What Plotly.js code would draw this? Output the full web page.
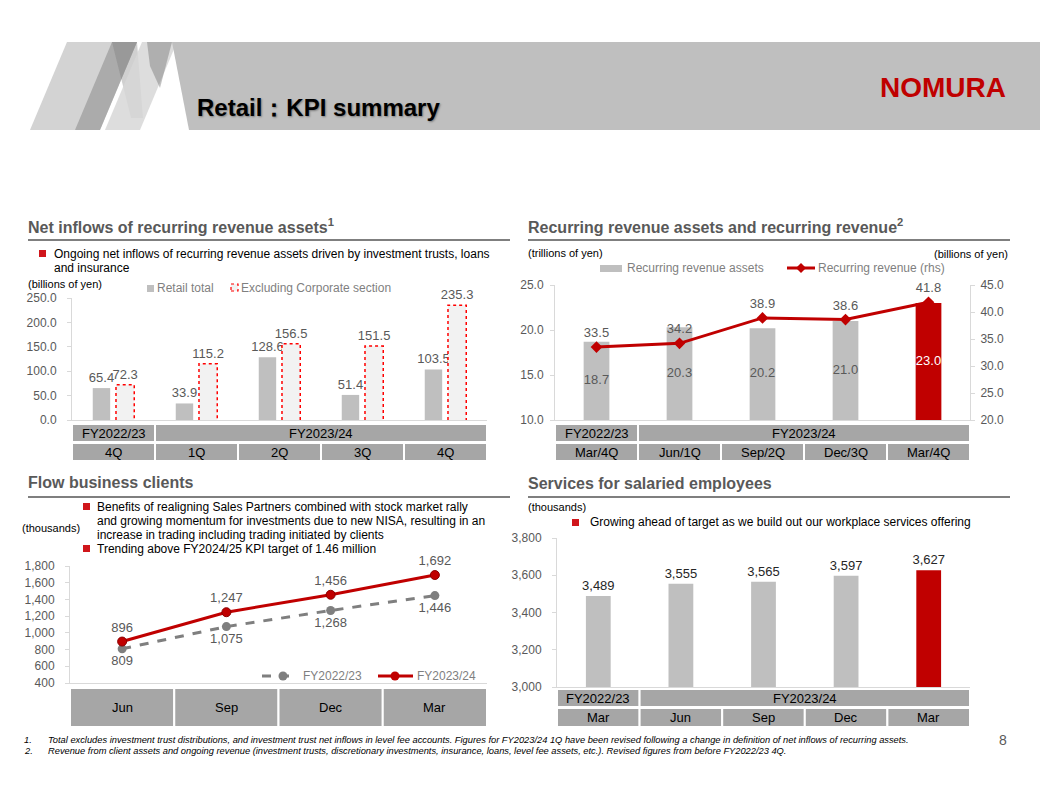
<!DOCTYPE html>
<html><head><meta charset="utf-8">
<script src="https://cdn.plot.ly/plotly-3.0.1.min.js"></script>
<style>html,body{margin:0;padding:0;background:#fff}#chart{width:1040px;height:804px}</style>
</head><body><div id="chart"></div>
<script>
// ---------------- DATA ----------------
const netInflowQuarters = ['4Q', '1Q', '2Q', '3Q', '4Q'];
const netInflowYears = ['FY2022/23', 'FY2023/24'];
const retailTotal = [65.4, 33.9, 128.6, 51.4, 103.5];
const exclCorporate = [72.3, 115.2, 156.5, 151.5, 235.3];

const recurringPeriods = ['Mar/4Q', 'Jun/1Q', 'Sep/2Q', 'Dec/3Q', 'Mar/4Q'];
const recurringYears = ['FY2022/23', 'FY2023/24'];
const recurringAssets = [18.7, 20.3, 20.2, 21.0, 23.0];
const recurringRevenue = [33.5, 34.2, 38.9, 38.6, 41.8];

const flowMonths = ['Jun', 'Sep', 'Dec', 'Mar'];
const flowFY2223 = [809, 1075, 1268, 1446];
const flowFY2324 = [896, 1247, 1456, 1692];

const salariedMonths = ['Mar', 'Jun', 'Sep', 'Dec', 'Mar'];
const salariedYears = ['FY2022/23', 'FY2023/24'];
const salariedClients = [3489, 3555, 3565, 3597, 3627];

// ---------------- STYLE ----------------
const W = 1040, H = 804;
const fx = x => x / W, fy = y => 1 - y / H;
const idx = a => a.map((_, i) => i);
const FONT = 'Liberation Sans, Arial, sans-serif';
const RED = '#C00000', BAR = '#BFBFBF', TXT = '#595959', LEG = '#7F7F7F', CELL = '#A6A6A6', AX = '#D9D9D9';
const BULLET = '#D0161B';
const ASSET_AXIS = [10, 25];

const shapes = [], annotations = [];
function txt(x, y, text, o) {
  o = o || {};
  annotations.push({xref: 'paper', yref: 'paper', x: fx(x), y: fy(y), text: text, showarrow: false,
    xanchor: o.anchor || 'left', yanchor: 'middle', align: o.anchor || 'left',
    font: {family: FONT, size: o.size || 12, color: o.color || '#000', shadow: o.shadow || 'none'}});
}
function rect(x0, y0, x1, y1, fill, line) {
  shapes.push({type: 'rect', xref: 'paper', yref: 'paper', x0: fx(x0), x1: fx(x1), y0: fy(y1), y1: fy(y0),
    fillcolor: fill, line: line || {width: 0}, layer: 'above'});
}
function poly(pts, fill) {
  const d = pts.map((p, i) => (i ? 'L' : 'M') + fx(p[0]).toFixed(5) + ',' + fy(p[1]).toFixed(5)).join(' ') + ' Z';
  shapes.push({type: 'path', xref: 'paper', yref: 'paper', path: d, fillcolor: fill, line: {width: 0}, layer: 'below'});
}
function hline(x0, x1, y, color, width, dash) {
  shapes.push({type: 'line', xref: 'paper', yref: 'paper', x0: fx(x0), x1: fx(x1), y0: fy(y), y1: fy(y),
    line: {color: color, width: width, dash: dash || 'solid'}, layer: 'above'});
}
function dot(cx, cy, r, color) {
  shapes.push({type: 'circle', xref: 'paper', yref: 'paper', x0: fx(cx - r), x1: fx(cx + r), y0: fy(cy + r), y1: fy(cy - r),
    fillcolor: color, line: {width: 0}, layer: 'above'});
}
function cell(xref, x0, x1, yTop, yBot, text) {
  shapes.push({type: 'rect', xref: xref, yref: 'paper', x0: x0, x1: x1, y0: fy(yBot), y1: fy(yTop),
    fillcolor: CELL, line: {color: '#FFFFFF', width: 2}, layer: 'above'});
  annotations.push({xref: xref, yref: 'paper', x: (x0 + x1) / 2, y: fy((yTop + yBot) / 2), text: text, showarrow: false,
    xanchor: 'center', yanchor: 'middle', font: {family: FONT, size: 13, color: '#000'}});
}
function yearRow(xref, n, years, yTop, yBot) {
  cell(xref, -0.5, 0.5, yTop, yBot, years[0]);
  cell(xref, 0.5, n - 0.5, yTop, yBot, years[1]);
}
function catRow(xref, cats, yTop, yBot) {
  cats.forEach((c, i) => cell(xref, i - 0.5, i + 0.5, yTop, yBot, c));
}

// ---------------- HEADER ----------------
poly([[30, 130], [100, 130], [137, 42], [67, 42]], '#D3D3D3');
poly([[75, 130], [100, 130], [137, 42], [112, 42]], '#ABABAB');
poly([[112, 42], [137, 42], [143, 118], [131, 118]], 'rgba(120,120,120,0.35)');
poly([[105, 130], [140, 130], [177, 42], [142, 42]], 'rgba(215,215,215,0.85)');
poly([[147, 42], [172, 42], [160, 88], [150, 66]], 'rgba(120,120,120,0.45)');
poly([[172, 42], [1040, 42], [1040, 130], [189, 130]], '#BFBFBF');
txt(195, 107, '<b>Retail：KPI summary</b>', {size: 24, shadow: '1px 1px 2px rgba(0,0,0,0.35)'});
txt(1008, 88, '<b>NOMURA</b>', {size: 28, color: RED, anchor: 'right'});

// ---------------- SECTION TITLES ----------------
txt(26, 226, '<b>Net inflows of recurring revenue assets<sup>1</sup></b>', {size: 16, color: TXT});
txt(526, 226, '<b>Recurring revenue assets and recurring revenue<sup>2</sup></b>', {size: 16, color: TXT});
txt(26, 482, '<b>Flow business clients</b>', {size: 16, color: TXT});
txt(526, 483, '<b>Services for salaried employees</b>', {size: 16, color: TXT});
hline(28, 510, 240, '#7F7F7F', 2);
hline(528, 1010, 240, '#7F7F7F', 2);
hline(28, 510, 497, '#7F7F7F', 2);
hline(528, 1010, 497, '#7F7F7F', 2);

// ---------------- CHART 1 texts ----------------
rect(39, 250, 46, 257, BULLET);
txt(52, 254, 'Ongoing net inflows of recurring revenue assets driven by investment trusts, loans');
txt(52, 268, 'and insurance');
txt(26, 284, '(billions of yen)', {size: 11});
rect(147, 285, 154, 292, BAR);
txt(155, 288, 'Retail total', {color: LEG});
shapes.push({type: 'rect', xref: 'paper', yref: 'paper', x0: fx(231), x1: fx(238), y0: fy(291), y1: fy(284),
  fillcolor: '#F2F2F2', line: {color: '#FF0000', width: 1.2, dash: 'dot'}, layer: 'above'});
txt(239, 288, 'Excluding Corporate section', {color: LEG});

// ---------------- CHART 2 texts ----------------
txt(526, 253, '(trillions of yen)', {size: 11});
txt(1010, 254, '(billions of yen)', {size: 11, anchor: 'right'});
rect(600, 265, 622, 272, BAR);
txt(625, 268, 'Recurring revenue assets', {color: LEG});
hline(787, 815, 268, RED, 3);
shapes.push({type: 'path', xref: 'paper', yref: 'paper', fillcolor: RED, line: {width: 0}, layer: 'above',
  path: 'M' + fx(801) + ',' + fy(263) + ' L' + fx(806) + ',' + fy(268) + ' L' + fx(801) + ',' + fy(273) + ' L' + fx(796) + ',' + fy(268) + ' Z'});
txt(816, 268, 'Recurring revenue (rhs)', {color: LEG});

// ---------------- CHART 3 texts ----------------
rect(83, 503, 90, 510, BULLET);
txt(95, 507, 'Benefits of realigning Sales Partners combined with stock market rally');
txt(95, 521, 'and growing momentum for investments due to new NISA, resulting in an');
txt(95, 535, 'increase in trading including trading initiated by clients');
rect(83, 545, 90, 552, BULLET);
txt(95, 549, 'Trending above FY2024/25 KPI target of 1.46 million');
txt(20, 528, '(thousands)', {size: 11});
hline(262, 298, 676, '#7F7F7F', 3, 'dash');
dot(283, 676, 4.5, '#7F7F7F');
txt(301, 676, 'FY2022/23', {color: LEG});
hline(378, 413, 676, RED, 3);
dot(395, 676, 4.5, RED);
txt(415, 676, 'FY2023/24', {color: LEG});

// ---------------- CHART 4 texts ----------------
txt(526, 507, '(thousands)', {size: 11});
rect(572, 519, 579, 526, BULLET);
txt(588, 522, 'Growing ahead of target as we build out our workplace services offering');

// ---------------- FOOTNOTES ----------------
txt(22, 740, '<i>1.</i>', {size: 9.3});
txt(46, 740, '<i>Total excludes investment trust distributions, and investment trust net inflows in level fee accounts. Figures for FY2023/24 1Q have been revised following a change in definition of net inflows of recurring assets.</i>', {size: 9.3});
txt(22, 751, '<i>2.</i>', {size: 9.3});
txt(46, 751, '<i>Revenue from client assets and ongoing revenue (investment trusts, discretionary investments, insurance, loans, level fee assets, etc.). Revised figures from before FY2022/23 4Q.</i>', {size: 9.3});
txt(1003, 740, '8', {size: 14, color: TXT, anchor: 'center'});

// ---------------- TABLES ----------------
yearRow('x', netInflowQuarters.length, netInflowYears, 424, 442);
catRow('x', netInflowQuarters, 443, 461);
yearRow('x2', recurringPeriods.length, recurringYears, 424, 442);
catRow('x2', recurringPeriods, 443, 461);
catRow('x3', flowMonths, 688, 727);
yearRow('x4', salariedMonths.length, salariedYears, 689, 707);
catRow('x4', salariedMonths, 708, 727);

// ---------------- TRACES ----------------
const G_OFF = -0.25, G_W = 0.21, E_OFF = 0.03, E_W = 0.22;
const outX = [], outY = [];
exclCorporate.forEach((v, i) => { outX.push(i + E_OFF, i + E_OFF, i + E_OFF + E_W, i + E_OFF + E_W, null); outY.push(0, v, v, 0, null); });
const labelFont = {family: FONT, size: 13, color: TXT};
const lastRed = (arr, a, b) => arr.map((_, i) => i === arr.length - 1 ? a : b);

const traces = [
  {type: 'bar', name: 'Retail total', x: idx(retailTotal), y: retailTotal, xaxis: 'x', yaxis: 'y',
   offset: G_OFF, width: G_W, marker: {color: BAR}, texttemplate: '%{y:.1f}', textposition: 'outside', textangle: 0,
   textfont: labelFont, cliponaxis: false, constraintext: 'none', hoverinfo: 'skip'},
  {type: 'bar', name: 'Excluding Corporate section', x: idx(exclCorporate), y: exclCorporate, xaxis: 'x', yaxis: 'y',
   offset: E_OFF, width: E_W, marker: {color: '#F2F2F2'}, texttemplate: '%{y:.1f}', textposition: 'outside', textangle: 0,
   textfont: labelFont, cliponaxis: false, constraintext: 'none', hoverinfo: 'skip'},
  {type: 'scatter', mode: 'lines', x: outX, y: outY, xaxis: 'x', yaxis: 'y', connectgaps: false,
   line: {color: '#FF0000', width: 1.5, dash: 'dot'}, hoverinfo: 'skip', cliponaxis: false},

  {type: 'bar', name: 'Recurring revenue assets', x: idx(recurringAssets), y: recurringAssets, xaxis: 'x2', yaxis: 'y2',
   width: 0.31, marker: {color: lastRed(recurringAssets, RED, BAR)}, textposition: 'none', hoverinfo: 'skip'},
  {type: 'scatter', mode: 'text', x: idx(recurringAssets), y: recurringAssets.map(v => (v + ASSET_AXIS[0]) / 2),
   text: recurringAssets.map(v => v.toFixed(1)), textposition: 'middle center', xaxis: 'x2', yaxis: 'y2',
   textfont: {family: FONT, size: 13, color: lastRed(recurringAssets, '#FFFFFF', TXT)}, hoverinfo: 'skip'},
  {type: 'scatter', name: 'Recurring revenue (rhs)', mode: 'lines+markers+text', x: idx(recurringRevenue), y: recurringRevenue,
   xaxis: 'x2', yaxis: 'y3', line: {color: RED, width: 3}, marker: {symbol: 'diamond', size: 9, color: RED},
   texttemplate: '%{y:.1f}', textposition: 'top center', textfont: labelFont, cliponaxis: false, hoverinfo: 'skip'},

  {type: 'scatter', name: 'FY2022/23', mode: 'lines+markers+text', x: idx(flowFY2223), y: flowFY2223, xaxis: 'x3', yaxis: 'y4',
   line: {color: '#7F7F7F', width: 3, dash: 'dash'}, marker: {symbol: 'circle', size: 9, color: '#7F7F7F'},
   texttemplate: '%{y:,}', textposition: 'bottom center', textfont: labelFont, cliponaxis: false, hoverinfo: 'skip'},
  {type: 'scatter', name: 'FY2023/24', mode: 'lines+markers+text', x: idx(flowFY2324), y: flowFY2324, xaxis: 'x3', yaxis: 'y4',
   line: {color: RED, width: 3}, marker: {symbol: 'circle', size: 9, color: RED, line: {color: '#8B0000', width: 1}},
   texttemplate: '%{y:,}', textposition: 'top center', textfont: labelFont, cliponaxis: false, hoverinfo: 'skip'},

  {type: 'bar', name: 'Salaried', x: idx(salariedClients), y: salariedClients, xaxis: 'x4', yaxis: 'y5',
   width: 0.3, marker: {color: lastRed(salariedClients, RED, BAR)},
   texttemplate: '%{y:,}', textposition: 'outside', constraintext: 'none', textangle: 0,
   textfont: {family: FONT, size: 13, color: '#262626'}, cliponaxis: false, hoverinfo: 'skip'}
];

const xBase = {showticklabels: false, ticks: '', showgrid: false, zeroline: false, showline: true, linecolor: AX, linewidth: 1, fixedrange: true};
const yBase = {showgrid: false, zeroline: false, showline: true, linecolor: AX, linewidth: 1, ticks: 'outside', ticklen: 4,
  tickcolor: AX, tickfont: {family: FONT, size: 12, color: TXT}, fixedrange: true};

const layout = {
  width: W, height: H, margin: {l: 0, r: 0, t: 0, b: 0}, paper_bgcolor: '#FFFFFF', plot_bgcolor: 'rgba(0,0,0,0)',
  showlegend: false, font: {family: FONT},
  xaxis: Object.assign({}, xBase, {domain: [fx(72), fx(487)], range: [-0.5, 4.5], anchor: 'y'}),
  yaxis: Object.assign({}, yBase, {domain: [fy(420), fy(298)], range: [0, 250], dtick: 50, tickformat: '.1f', anchor: 'x', ticklabelstandoff: 8}),
  xaxis2: Object.assign({}, xBase, {domain: [fx(555), fx(970)], range: [-0.5, 4.5], anchor: 'y2'}),
  yaxis2: Object.assign({}, yBase, {domain: [fy(420), fy(285)], range: ASSET_AXIS, dtick: 5, tickformat: '.1f', anchor: 'x2', ticklabelstandoff: 4}),
  yaxis3: Object.assign({}, yBase, {range: [20, 45], dtick: 5, tickformat: '.1f', overlaying: 'y2', side: 'right', anchor: 'x2', ticklabelstandoff: 3}),
  xaxis3: Object.assign({}, xBase, {domain: [fx(70), fx(487)], range: [-0.5, 3.5], anchor: 'y4'}),
  yaxis4: Object.assign({}, yBase, {domain: [fy(683), fy(566)], range: [400, 1800], dtick: 200, tickformat: ',d', anchor: 'x3', ticklabelstandoff: 8}),
  xaxis4: Object.assign({}, xBase, {domain: [fx(557), fx(970)], range: [-0.5, 4.5], anchor: 'y5'}),
  yaxis5: Object.assign({}, yBase, {domain: [fy(687), fy(538)], range: [3000, 3800], dtick: 200, tickformat: ',d', anchor: 'x4', ticklabelstandoff: 8}),
  shapes: shapes, annotations: annotations
};

Plotly.newPlot('chart', traces, layout, {staticPlot: true, displayModeBar: false});
</script>
</body></html>
